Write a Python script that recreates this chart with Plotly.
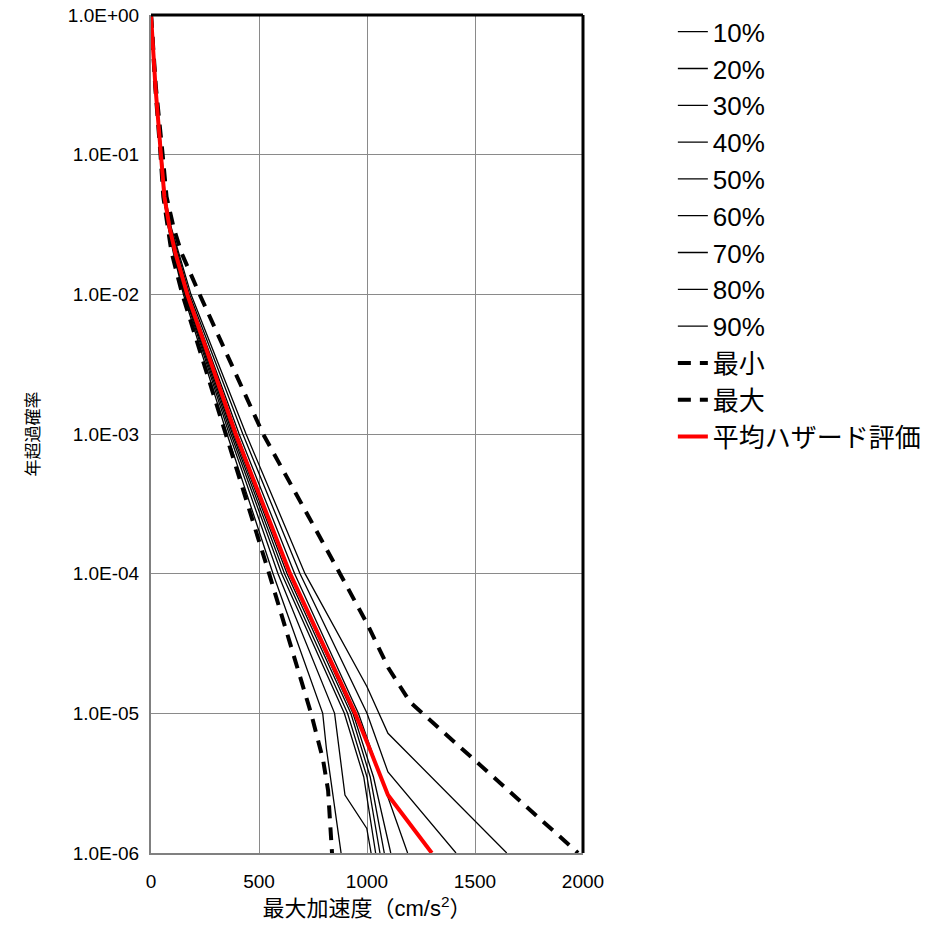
import plotly.graph_objects as go

# ---- data (acceleration cm/s^2, annual exceedance probability) ----
p10_acc  = [0, 20, 44, 58, 80, 103, 150, 352, 565, 795, 812, 880]
p10_prob = [1, 0.3, 0.1, 0.05, 0.03, 0.02, 1e-2, 1e-3, 1e-4, 1e-5, 5.6e-6, 1e-6]
p20_acc  = [0, 20, 45, 59, 81, 106, 155, 362, 588, 850, 898, 999, 1019]
p20_prob = [1, 0.3, 0.1, 0.05, 0.03, 0.02, 1e-2, 1e-3, 1e-4, 1e-5, 2.6e-6, 1.5e-6, 1e-6]
p30_acc  = [0, 21, 45, 59, 82, 108, 158, 370, 605, 895, 985, 1040]
p30_prob = [1, 0.3, 0.1, 0.05, 0.03, 0.02, 1e-2, 1e-3, 1e-4, 1e-5, 3.5e-6, 1e-6]
p40_acc  = [0, 21, 46, 60, 83, 110, 161, 377, 618, 910, 1000, 1060]
p40_prob = [1, 0.3, 0.1, 0.05, 0.03, 0.02, 1e-2, 1e-3, 1e-4, 1e-5, 3.5e-6, 1e-6]
p50_acc  = [0, 21, 46, 61, 84, 112, 164, 383, 630, 925, 1015, 1080]
p50_prob = [1, 0.3, 0.1, 0.05, 0.03, 0.02, 1e-2, 1e-3, 1e-4, 1e-5, 3.5e-6, 1e-6]
p60_acc  = [0, 22, 47, 62, 86, 115, 168, 398, 640, 935, 1030, 1110]
p60_prob = [1, 0.3, 0.1, 0.05, 0.03, 0.02, 1e-2, 1e-3, 1e-4, 1e-5, 3.5e-6, 1e-6]
p70_acc  = [0, 22, 48, 63, 88, 118, 172, 408, 665, 960, 1188]
p70_prob = [1, 0.3, 0.1, 0.05, 0.03, 0.02, 1e-2, 1e-3, 1e-4, 1e-5, 1e-6]
p80_acc  = [0, 23, 49, 64, 91, 122, 178, 425, 690, 1000, 1097, 1412]
p80_prob = [1, 0.3, 0.1, 0.05, 0.03, 0.02, 1e-2, 1e-3, 1e-4, 1e-5, 3.8e-6, 1e-6]
p90_acc  = [0, 23, 50, 66, 94, 127, 185, 440, 713, 1000, 1097, 1647]
p90_prob = [1, 0.3, 0.1, 0.05, 0.03, 0.02, 1e-2, 1e-3, 1e-4, 1.55e-5, 7.2e-6, 1e-6]
min_acc  = [0, 20, 44, 57, 78, 95, 145, 345, 547, 741, 796, 820, 838]
min_prob = [1, 0.3, 0.1, 0.05, 0.03, 0.02, 1e-2, 1e-3, 1e-4, 1e-5, 4.7e-6, 2.8e-6, 1e-6]
max_acc  = [0, 23, 54, 72, 105, 140, 225, 519, 875, 1000, 1100, 1200, 1977]
max_prob = [1, 0.3, 0.1, 0.05, 0.03, 0.02, 1e-2, 1e-3, 1e-4, 4.4e-5, 2.1e-5, 1.2e-5, 1e-6]
mean_acc  = [0, 21, 46, 62, 86, 112, 168, 392, 644, 945, 1014, 1097, 1300]
mean_prob = [1, 0.3, 0.1, 0.05, 0.03, 0.02, 1e-2, 1e-3, 1e-4, 1e-5, 5.5e-6, 2.6e-6, 1e-6]

fractile_names = ["10%", "20%", "30%", "40%", "50%", "60%", "70%", "80%", "90%"]
fractiles = [(p10_acc, p10_prob), (p20_acc, p20_prob), (p30_acc, p30_prob),
             (p40_acc, p40_prob), (p50_acc, p50_prob), (p60_acc, p60_prob),
             (p70_acc, p70_prob), (p80_acc, p80_prob), (p90_acc, p90_prob)]

y_tickvals = [1e0, 1e-1, 1e-2, 1e-3, 1e-4, 1e-5, 1e-6]
y_ticktext = ["1.0E+00", "1.0E-01", "1.0E-02", "1.0E-03", "1.0E-04", "1.0E-05", "1.0E-06"]
x_tickvals = [0, 500, 1000, 1500, 2000]

FONT = "Liberation Sans, Arial, Noto Sans CJK JP, sans-serif"

fig = go.Figure()
for name, (ax, pr) in zip(fractile_names, fractiles):
    fig.add_trace(go.Scatter(x=ax, y=pr, mode="lines", name=name,
                             line=dict(color="black", width=1.3)))
fig.add_trace(go.Scatter(x=min_acc, y=min_prob, mode="lines", name="最小",
                         line=dict(color="black", width=4, dash="13px,9px")))
fig.add_trace(go.Scatter(x=max_acc, y=max_prob, mode="lines", name="最大",
                         line=dict(color="black", width=4, dash="13px,9px")))
fig.add_trace(go.Scatter(x=mean_acc, y=mean_prob, mode="lines", name="平均ハザード評価",
                         line=dict(color="#ff0000", width=4)))

fig.update_layout(
    width=946, height=926,
    margin=dict(l=151, r=363, t=15, b=73, autoexpand=False),
    paper_bgcolor="white", plot_bgcolor="white",
    font=dict(family=FONT, size=19, color="black"),
    legend=dict(x=1.208, y=1.008, xanchor="left", yanchor="top",
                font=dict(size=26, family=FONT), bgcolor="rgba(0,0,0,0)",
                tracegroupgap=0),
    shapes=[
        dict(type="line", xref="paper", yref="paper", x0=0, x1=1, y0=1, y1=1,
             line=dict(color="black", width=3)),
        dict(type="line", xref="paper", yref="paper", x0=1, x1=1, y0=0, y1=1,
             line=dict(color="black", width=3)),
    ],
)
fig.update_xaxes(range=[0, 2000], tickvals=x_tickvals, showgrid=True,
                 gridcolor="#8a8a8a", gridwidth=1.3, zeroline=False,
                 showline=True, linecolor="#808080", linewidth=2,
                 ticks="", tickfont=dict(size=19), ticklabelstandoff=10,
                 title=dict(text="最大加速度（cm/s<sup>2</sup>）", font=dict(size=22), standoff=10))
fig.update_yaxes(type="log", range=[-6, 0], tickvals=y_tickvals, ticktext=y_ticktext,
                 showgrid=True, gridcolor="#8a8a8a", gridwidth=1.3, zeroline=False,
                 showline=True, linecolor="#808080", linewidth=2,
                 ticks="", tickfont=dict(size=19), ticklabelstandoff=6,
                 title=dict(text="年超過確率", font=dict(size=17), standoff=24))

fig.write_html("out.html", config={"displayModeBar": False},
               post_script="document.body.style.margin='0';document.documentElement.style.overflow='hidden';")
